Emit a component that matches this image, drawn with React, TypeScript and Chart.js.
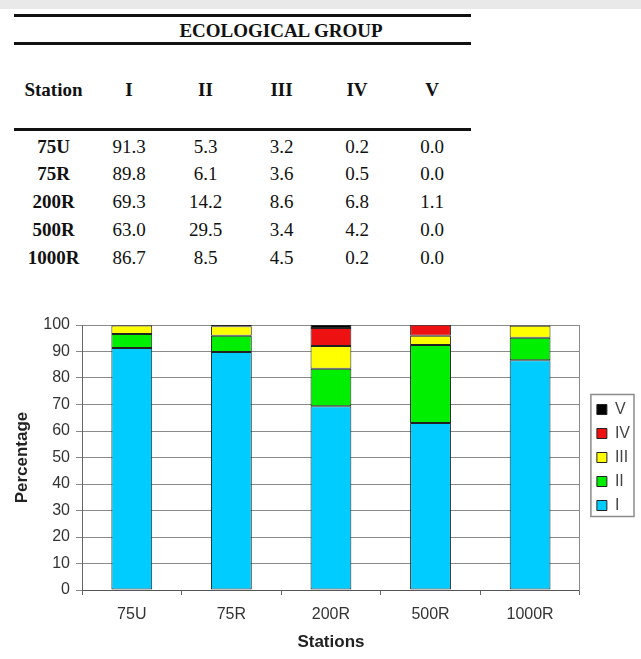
import React, { useEffect, useRef } from "react";
import { Chart, registerables } from "chart.js";

Chart.register(...registerables);

// ---- data ----
const stations = ["75U", "75R", "200R", "500R", "1000R"];
const groups = ["I", "II", "III", "IV", "V"];
const groupI = [91.3, 89.8, 69.3, 63.0, 86.7];
const groupII = [5.3, 6.1, 14.2, 29.5, 8.5];
const groupIII = [3.2, 3.6, 8.6, 3.4, 4.5];
const groupIV = [0.2, 0.5, 6.8, 4.2, 0.2];
const groupV = [0.0, 0.0, 1.1, 0.0, 0.0];
const tableTitle = "ECOLOGICAL GROUP";
const stationHeader = "Station";
const yAxisTitle = "Percentage";
const xAxisTitle = "Stations";

const series = [groupI, groupII, groupIII, groupIV, groupV];
const colors = ["#00CCFF", "#00EE00", "#FFFF00", "#EE1111", "#000000"];

const SERIF = "'Liberation Serif', 'Times New Roman', serif";
const SANS = "'Liberation Sans', Arial, sans-serif";

const colX = [53.5, 129, 205.5, 281.5, 357, 432];
const rowY = [145.5, 172.5, 201, 229, 257];

function Cell(props: { x: number; y: number; text: string; bold?: boolean }) {
  return (
    <div
      style={{
        position: "absolute",
        left: props.x,
        top: props.y,
        transform: "translate(-50%, -50%)",
        fontFamily: SERIF,
        fontSize: 19,
        lineHeight: "19px",
        fontWeight: props.bold ? "bold" : "normal",
        color: "#111",
        whiteSpace: "nowrap",
      }}
    >
      {props.text}
    </div>
  );
}

function Rule(props: { y: number }) {
  return (
    <div
      style={{
        position: "absolute",
        left: 14,
        width: 457,
        top: props.y - 1.5,
        height: 3,
        background: "#111",
      }}
    />
  );
}

function DataTable() {
  return (
    <>
      <Rule y={15} />
      <Cell x={281} y={29.5} text={tableTitle} bold />
      <Rule y={43.5} />
      <Cell x={colX[0]} y={89} text={stationHeader} bold />
      {groups.map((g, i) => (
        <Cell key={g} x={colX[i + 1]} y={89} text={g} bold />
      ))}
      <Rule y={129} />
      {stations.map((s, r) => (
        <React.Fragment key={s}>
          <Cell x={colX[0]} y={rowY[r]} text={s} bold />
          {series.map((arr, c) => (
            <Cell key={c} x={colX[c + 1]} y={rowY[r]} text={arr[r].toFixed(1)} />
          ))}
        </React.Fragment>
      ))}
    </>
  );
}

function StackedChart() {
  const ref = useRef<HTMLCanvasElement | null>(null);
  useEffect(() => {
    if (!ref.current) return;
    const legendBorder = {
      id: "legendBorder",
      afterDraw(chart: any) {
        const lg = chart.legend;
        if (!lg || !lg.legendHitBoxes || !lg.legendHitBoxes.length) return;
        let l = Infinity, r = -Infinity, t = Infinity, b = -Infinity;
        lg.legendHitBoxes.forEach((h: any) => {
          l = Math.min(l, h.left);
          r = Math.max(r, h.left + h.width);
          t = Math.min(t, h.top);
          b = Math.max(b, h.top + h.height);
        });
        const ctx = chart.ctx;
        ctx.save();
        ctx.strokeStyle = "#8c8c8c";
        ctx.lineWidth = 1.5;
        ctx.strokeRect(l - 6, t - 7, r - l + 10, b - t + 10);
        ctx.restore();
      },
    };
    const chart = new Chart(ref.current, {
      type: "bar",
      data: {
        labels: stations,
        datasets: groups.map((g, i) => ({
          label: g,
          data: series[i],
          backgroundColor: colors[i],
          borderColor: "#222",
          borderWidth: 1,
          borderSkipped: false,
          categoryPercentage: 1,
          barPercentage: 0.41,
        })),
      },
      options: {
        responsive: true,
        maintainAspectRatio: false,
        animation: false,
        layout: { padding: { top: 25, right: 1, bottom: 0, left: 0 } },
        plugins: {
          tooltip: { enabled: false },
          legend: {
            position: "right",
            align: "center",
            fullSize: false,
            reverse: true,
            labels: {
              boxWidth: 10,
              boxHeight: 10,
              padding: 8,
              color: "#444",
              font: { family: SANS, size: 16 },
            },
          },
        },
        scales: {
          x: {
            stacked: true,
            grid: {
              display: true,
              drawOnChartArea: false,
              drawTicks: true,
              tickLength: 5,
              color: "#666",
              offset: true,
            },
            border: { display: true, color: "#555", width: 1 },
            ticks: {
              color: "#333",
              padding: 10,
              font: { family: SANS, size: 16 },
            },
            title: {
              display: true,
              text: xAxisTitle,
              color: "#222",
              font: { family: SANS, size: 17, weight: "bold" },
              padding: { top: 0, bottom: 6 },
            },
            afterFit(scale: any) {
              scale.height = 69;
            },
          },
          y: {
            stacked: true,
            min: 0,
            max: 100,
            ticks: {
              stepSize: 10,
              color: "#333",
              padding: 6,
              font: { family: SANS, size: 16 },
            },
            grid: {
              color: "#8a8a8a",
              lineWidth: 1,
              tickLength: 6,
              drawTicks: true,
            },
            border: { display: true, color: "#666", width: 1 },
            title: {
              display: true,
              text: yAxisTitle,
              color: "#222",
              font: { family: SANS, size: 17, weight: "bold" },
              padding: { top: 12, bottom: 0 },
            },
            afterFit(scale: any) {
              scale.width = 82;
            },
          },
          y2: {
            position: "right",
            display: true,
            grid: { display: false, drawTicks: false },
            ticks: { display: false },
            border: { display: true, color: "#8a8a8a", width: 1 },
            afterFit(scale: any) {
              scale.width = 9;
            },
          },
        },
      } as any,
      plugins: [legendBorder],
    });
    return () => chart.destroy();
  }, []);
  return (
    <div style={{ position: "absolute", left: 0, top: 300, width: 641, height: 359 }}>
      <canvas ref={ref} />
    </div>
  );
}

export default function App() {
  return (
    <div
      style={{
        position: "absolute",
        left: 0,
        top: 0,
        width: 641,
        height: 659,
        background: "#fff",
        overflow: "hidden",
      }}
    >
      <div style={{ position: "absolute", left: 0, top: 0, width: 641, height: 9, background: "#e9e9e9" }} />
      <DataTable />
      <StackedChart />
    </div>
  );
}
